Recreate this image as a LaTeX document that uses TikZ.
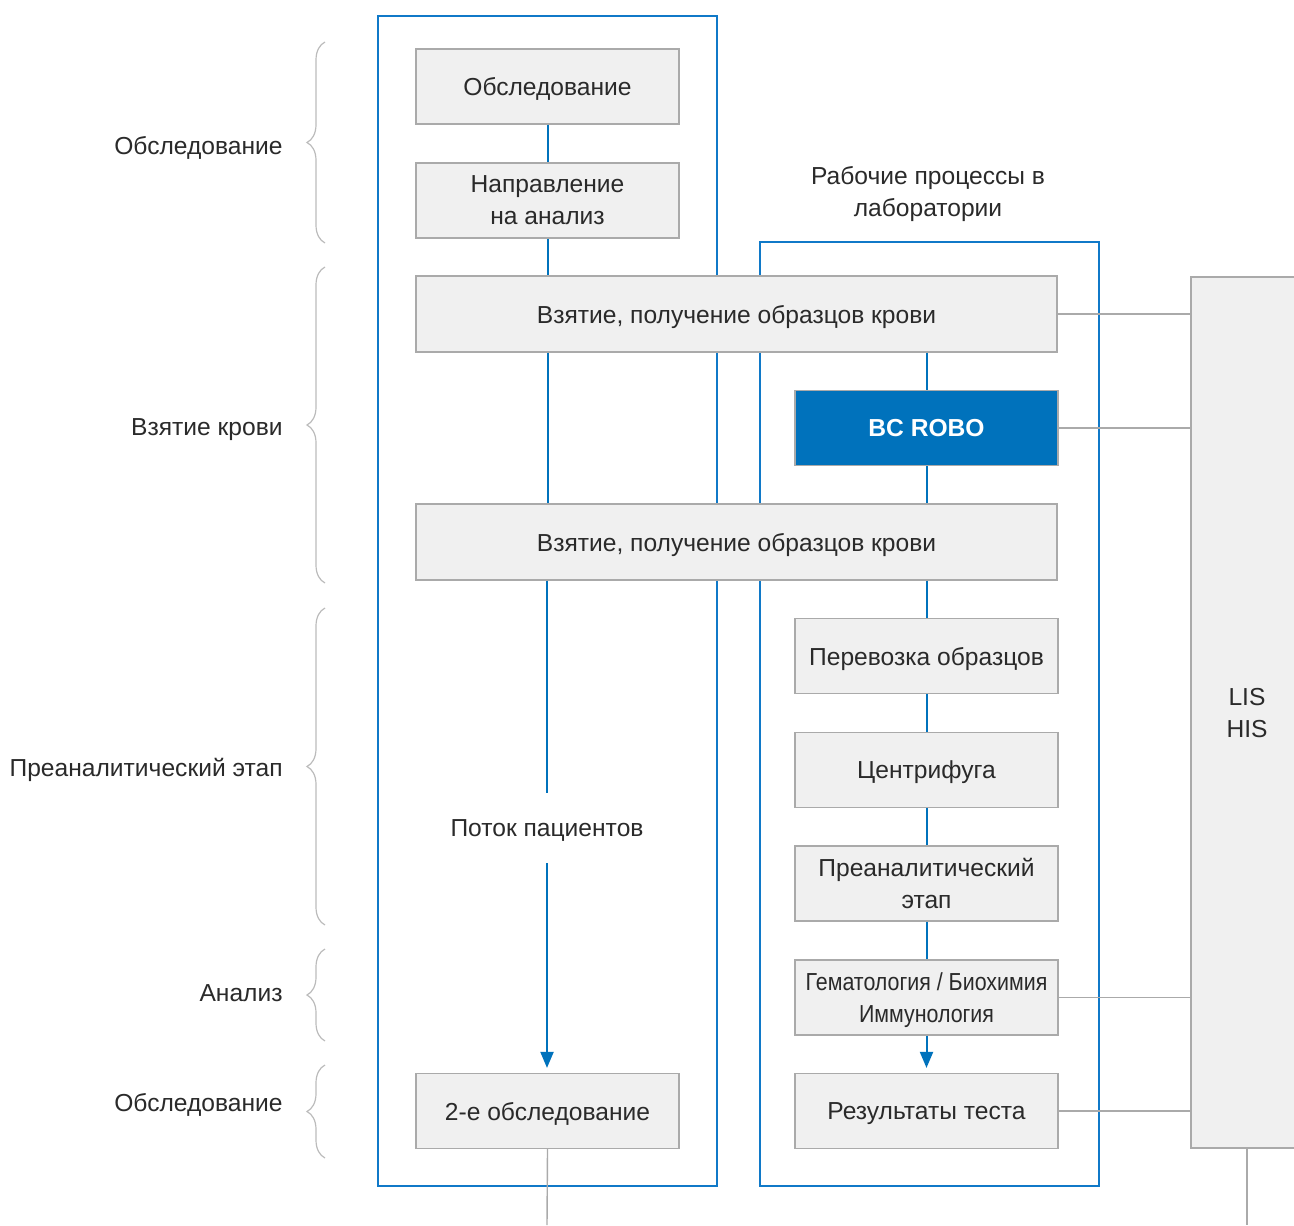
\documentclass[tikz,border=0pt]{standalone}
\usepackage{fontspec}
\usepackage{graphicx}
\setmainfont{Liberation Sans}
\usetikzlibrary{arrows.meta,decorations.pathreplacing,calc}
\definecolor{bblue}{HTML}{0072BC}
\definecolor{fblue}{HTML}{1079C8}
\definecolor{boxfill}{HTML}{F0F0F0}
\definecolor{boxline}{HTML}{AAAAAA}
\definecolor{txt}{HTML}{2A2A2A}
\definecolor{brc}{HTML}{BBBBBB}
\begin{document}
\begin{tikzpicture}[x=0.5pt,y=-0.5pt,
  every node/.style={font=\fontsize{12.3}{16}\selectfont, text=txt, text depth=0pt},
  box/.style={draw=boxline, line width=0.6pt, fill=boxfill, inner sep=0pt, align=center,
    minimum width=131.5pt, minimum height=37.5pt},
  widebox/.style={box, minimum width=320.5pt, minimum height=38pt},
  frame/.style={draw=fblue, line width=1pt},
  flow/.style={draw=bblue, line width=1pt},
  glink/.style={draw=boxline, line width=0.7pt},
  brc/.style={draw=brc, line width=0.6pt, decorate, decoration={brace, amplitude=9pt}},
  lbl/.style={anchor=east, inner sep=0pt},
  tip/.style={-{Triangle[length=8pt,width=6.5pt]}, shorten >=2.5pt}
]
\useasboundingbox (0,0) rectangle (1294,1225);
\clip (0,0) rectangle (1294,1225);

% frames
\draw[frame] (378,16) rectangle (717,1186);
\draw[frame] (760,242) rectangle (1099,1186);

% heading
\node[align=center] (head) at (928,191) {Рабочие процессы в\\лаборатории};

% boxes
\node[box] (obs) at (547.5,86.5) {Обследование};
\node[box] (napr) at (547.5,200.5) {Направление\\на анализ};
\node[widebox] (w1) at (736.5,314) {Взятие, получение образцов крови};
\node[box, fill=bblue, text=white, font=\fontsize{12.3}{16}\selectfont\bfseries] (robo) at (926.5,428) {BC ROBO};
\node[widebox] (w2) at (736.5,542) {Взятие, получение образцов крови};
\node[box] (perev) at (926.5,656) {Перевозка образцов};
\node[box] (centr) at (926.5,770) {Центрифуга};
\node[box] (prea) at (926.5,883.5) {Преаналитический\\этап};
\node[box] (gem) at (926.5,997.5) {\scalebox{0.87}[1]{Гематология / Биохимия}\\\scalebox{0.87}[1]{Иммунология}};
\node[box] (res) at (926.5,1111) {Результаты теста};
\node[box] (obs2) at (547.5,1111) {2-е обследование};
\node[draw=boxline, line width=0.8pt, fill=boxfill, minimum width=59pt, minimum height=435.5pt, inner sep=0pt] (lis) at (1250,712.5) {};
\node[align=center] (listxt) at (1247,713) {LIS\\HIS};
\node[minimum height=35pt, inner sep=0pt] (pf) at (547,828) {Поток пациентов};

% left flow
\draw[flow] (obs.south) -- (napr.north);
\draw[flow] (napr.south) -- (napr.south |- w1.north);
\draw[flow] (w1.south -| napr.south) -- (w2.north -| napr.south);
\draw[flow] (w2.south -| pf.north) -- (pf.north);
\draw[flow, tip] (pf.south) -- (obs2.north -| pf.south);

% right flow
\draw[flow] (w1.south -| robo.north) -- (robo.north);
\draw[flow] (robo.south) -- (w2.north -| robo.south);
\draw[flow] (w2.south -| perev.north) -- (perev.north);
\draw[flow] (perev.south) -- (centr.north);
\draw[flow] (centr.south) -- (prea.north);
\draw[flow] (prea.south) -- (gem.north);
\draw[flow, tip] (gem.south) -- (res.north);

% LIS links
\draw[glink] (w1.east) -- (w1.east -| lis.west);
\draw[glink] (robo.east) -- (robo.east -| lis.west);
\draw[glink] (gem.east) -- (gem.east -| lis.west);
\draw[glink] (res.east) -- (res.east -| lis.west);
\coordinate (e1) at (547,1225);
\coordinate (e2) at (1247,1225);
\draw[glink] (obs2.south) -- (e1);
\draw[glink] (lis.south -| e2) -- (e2);

% braces
\draw[brc] (325,243) -- (325,42);
\draw[brc] (325,583) -- (325,267);
\draw[brc] (325,925) -- (325,608);
\draw[brc] (325,1041) -- (325,949);
\draw[brc] (325,1158) -- (325,1065);

\node[lbl] (l1) at (283,145) {Обследование};
\node[lbl] (l2) at (283,427) {Взятие крови};
\node[lbl] (l3) at (283,767) {Преаналитический этап};
\node[lbl] (l4) at (283,993) {Анализ};
\node[lbl] (l5) at (283,1102) {Обследование};
\end{tikzpicture}
\end{document}
